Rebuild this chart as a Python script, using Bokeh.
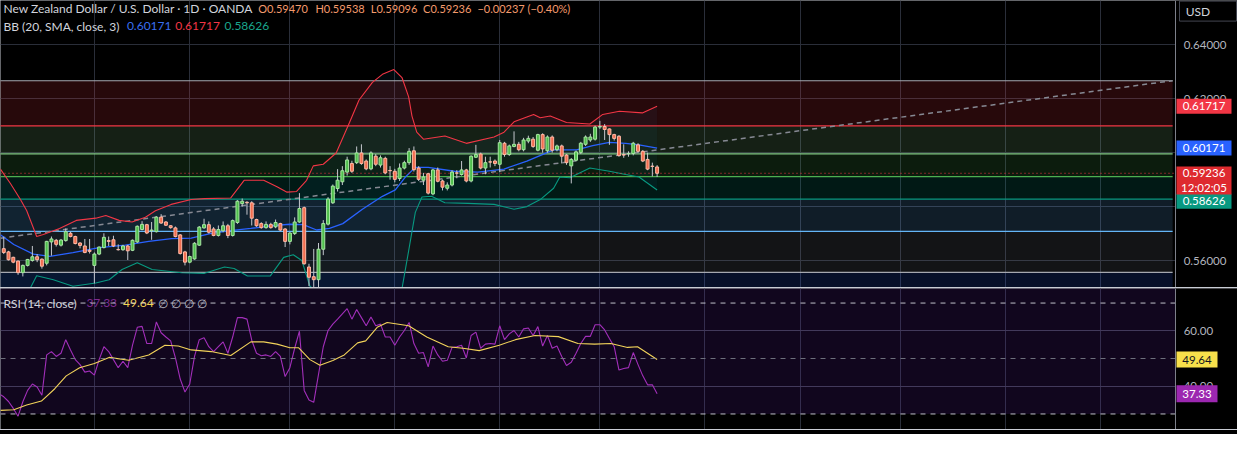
from bokeh.plotting import figure
from bokeh.models import Range1d, FixedTicker, ColumnDataSource, Spacer
from bokeh.layouts import column
from bokeh.embed import file_html
from bokeh.resources import INLINE
from bokeh.core.properties import value

# ---------------- data ----------------
bars = list(range(138))
opens = [0.5644,0.5632,0.5612,0.5598,0.5555,0.5582,0.5600,0.5614,0.5605,0.5590,
0.5669,0.5675,0.5657,0.5674,0.5701,0.5689,0.5665,0.5654,0.5638,0.5582,
0.5624,0.5648,0.5674,0.5677,0.5641,0.5640,0.5654,0.5638,0.5669,0.5715,
0.5733,0.5710,0.5707,0.5761,0.5743,0.5729,0.5721,0.5695,0.5632,0.5594,
0.5606,0.5657,0.5721,0.5733,0.5717,0.5693,0.5710,0.5729,0.5693,0.5741,
0.5811,0.5816,0.5814,0.5752,0.5737,0.5722,0.5734,0.5725,0.5737,0.5717,
0.5671,0.5700,0.5743,0.5796,0.5576,0.5540,0.5529,0.5642,0.5735,0.5814,
0.5867,0.5892,0.5928,0.5960,0.5963,0.5999,0.5969,0.5940,0.5987,0.5954,
0.5979,0.5934,0.5931,0.5904,0.5943,0.5963,0.6007,0.5943,0.5898,0.5922,
0.5847,0.5936,0.5895,0.5868,0.5880,0.5925,0.5919,0.5936,0.5895,0.5983,
0.5995,0.5943,0.5966,0.5969,0.5957,0.6035,0.5993,0.6023,0.6031,0.6011,
0.6043,0.6050,0.6009,0.6067,0.6007,0.6058,0.6011,0.6025,0.5991,0.5951,
0.5972,0.6001,0.6031,0.6047,0.6050,0.6095,0.6097,0.6088,0.6067,0.6061,
0.5993,0.5996,0.5997,0.6029,0.6005,0.5975,0.5950,0.59470]
highs = [0.5689,0.5636,0.5614,0.5600,0.5585,0.5606,0.5654,0.5624,0.5608,0.5673,
0.5689,0.5680,0.5680,0.5719,0.5707,0.5692,0.5668,0.5680,0.5680,0.5630,
0.5652,0.5701,0.5689,0.5692,0.5660,0.5658,0.5658,0.5678,0.5730,0.5746,
0.5736,0.5743,0.5764,0.5772,0.5746,0.5731,0.5726,0.5698,0.5636,0.5618,
0.5668,0.5728,0.5755,0.5745,0.5724,0.5730,0.5745,0.5736,0.5752,0.5824,
0.5830,0.5820,0.5820,0.5755,0.5742,0.5745,0.5740,0.5752,0.5740,0.5720,
0.5705,0.5760,0.5850,0.5800,0.5588,0.5643,0.5665,0.5750,0.5835,0.5882,
0.5939,0.5950,0.5985,0.5970,0.6023,0.6031,0.5975,0.6005,0.5995,0.5990,
0.5985,0.5950,0.5940,0.5960,0.5970,0.6017,0.6023,0.5950,0.5925,0.5925,
0.5940,0.5945,0.5900,0.5890,0.5935,0.5935,0.5969,0.5940,0.5990,0.6029,
0.6000,0.5985,0.5985,0.5975,0.6047,0.6040,0.6030,0.6079,0.6040,0.6055,
0.6063,0.6058,0.6070,0.6072,0.6064,0.6064,0.6030,0.6030,0.5995,0.5980,
0.6008,0.6040,0.6064,0.6070,0.6100,0.6118,0.6106,0.6090,0.6070,0.6065,
0.6031,0.6005,0.6040,0.6035,0.6010,0.6000,0.5963,0.59538]
lows = [0.5624,0.5600,0.5590,0.5547,0.5541,0.5578,0.5596,0.5594,0.5570,0.5582,
0.5618,0.5652,0.5652,0.5670,0.5686,0.5660,0.5645,0.5627,0.5626,0.5515,
0.5620,0.5645,0.5654,0.5650,0.5637,0.5636,0.5602,0.5635,0.5665,0.5712,
0.5698,0.5677,0.5704,0.5736,0.5728,0.5718,0.5686,0.5622,0.5582,0.5590,
0.5603,0.5654,0.5718,0.5700,0.5690,0.5689,0.5705,0.5683,0.5689,0.5736,
0.5800,0.5770,0.5730,0.5725,0.5718,0.5718,0.5718,0.5720,0.5709,0.5650,
0.5660,0.5695,0.5740,0.5585,0.5505,0.5500,0.5498,0.5620,0.5730,0.5810,
0.5856,0.5880,0.5915,0.5925,0.5958,0.5955,0.5935,0.5935,0.5950,0.5945,
0.5920,0.5900,0.5890,0.5895,0.5938,0.5955,0.5930,0.5895,0.5880,0.5845,
0.5842,0.5890,0.5860,0.5860,0.5875,0.5905,0.5915,0.5890,0.5890,0.5980,
0.5938,0.5920,0.5945,0.5950,0.5928,0.5985,0.5988,0.6020,0.6005,0.6005,
0.6035,0.6018,0.6005,0.6000,0.6000,0.6000,0.6005,0.5960,0.5955,0.5886,
0.5968,0.5995,0.6025,0.6040,0.6045,0.6088,0.6047,0.6029,0.6045,0.5985,
0.5981,0.5985,0.5990,0.6000,0.5965,0.5935,0.5912,0.59096]
closes = [0.5630,0.5603,0.5594,0.5555,0.5582,0.5604,0.5614,0.5603,0.5579,0.5671,
0.5680,0.5660,0.5676,0.5707,0.5689,0.5663,0.5656,0.5630,0.5634,0.5624,
0.5650,0.5686,0.5671,0.5654,0.5640,0.5654,0.5636,0.5675,0.5727,0.5734,
0.5702,0.5713,0.5761,0.5739,0.5731,0.5722,0.5689,0.5626,0.5594,0.5615,
0.5664,0.5724,0.5733,0.5705,0.5693,0.5715,0.5729,0.5693,0.5748,0.5820,
0.5820,0.5814,0.5757,0.5729,0.5722,0.5734,0.5722,0.5741,0.5713,0.5671,
0.5702,0.5743,0.5793,0.5588,0.5538,0.5529,0.5642,0.5737,0.5828,0.5876,
0.5898,0.5933,0.5973,0.5931,0.5999,0.5960,0.5940,0.5999,0.5957,0.5981,
0.5925,0.5933,0.5901,0.5943,0.5963,0.6005,0.5937,0.5901,0.5910,0.5850,
0.5936,0.5894,0.5872,0.5880,0.5928,0.5924,0.5936,0.5895,0.5987,0.5993,
0.5943,0.5963,0.5965,0.5960,0.6037,0.5993,0.6025,0.6031,0.6011,0.6047,
0.6053,0.6023,0.6067,0.6014,0.6058,0.6009,0.6025,0.5987,0.5963,0.5975,
0.6003,0.6035,0.6058,0.6058,0.6095,0.6097,0.6086,0.6067,0.6053,0.5989,
0.5991,0.5997,0.6035,0.6005,0.5969,0.5939,0.5949,0.59236]

# Bollinger bands (20, SMA, 3) sampled along the bars
bb_up_idx = [-0.7,1.4,3.5,4.8,6.9,8.3,11.7,15.2,19.3,21.4,24.2,26.9,29.7,31.8,35.1,39.3,42.1,47.6,50.4,54.5,
             57.3,59.4,61.4,63.5,64.9,67.0,69.7,72.5,74.5,77.3,79.4,81.8,83.5,84.9,85.6,86.6,88.0,92.5,97.0,102.8,
             104.9,107.0,111.1,112.5,114.6,118.0,122.9,125.6,129.1,133.9,137]
bb_up = [0.59393,0.58857,0.58261,0.57857,0.56893,0.56964,0.57189,0.57489,0.57571,0.57668,0.57489,0.57429,0.57607,
         0.57846,0.58082,0.58261,0.58296,0.58321,0.58975,0.58975,0.58739,0.58536,0.58561,0.58975,0.59511,0.59571,
         0.59989,0.61118,0.61954,0.62607,0.62904,0.63082,0.62786,0.62071,0.61357,0.60761,0.60500,0.60618,0.60346,
         0.60582,0.60761,0.61143,0.61418,0.61296,0.61357,0.61118,0.61061,0.61418,0.61536,0.61475,0.61717]
bb_mid_idx = [-0.7,2.1,6.2,9.7,14.5,20.0,25.5,30.4,35.2,39.3,43.5,47.6,51.8,55.9,60.0,62.8,65.6,68.3,71.1,75.2,
              79.4,82.1,84.2,86.3,89.0,94.5,99.4,104.9,109.7,115.3,120.1,123.5,127.0,130.4,133.2,137]
bb_mid = [0.56954,0.56596,0.56239,0.56154,0.56296,0.56475,0.56571,0.56714,0.56811,0.56832,0.57011,0.57107,0.57189,
          0.57286,0.57346,0.57332,0.57132,0.57189,0.57368,0.57904,0.58382,0.58618,0.59096,0.59454,0.59454,0.59311,
          0.59275,0.59393,0.59689,0.60107,0.60107,0.60261,0.60382,0.60346,0.60286,0.60171]
bb_lo_idx = [-0.7,3.0,5.5,6.9,10.4,14.5,19.3,22.1,24.8,28.0,31.1,37.3,42.1,46.3,48.3,51.1,55.9,58.7,60.7,62.5,
             64.2,64.9,68,73,78,82,83.5,84.9,86.3,87.7,89.7,92.5,97.3,102.8,107.0,109.7,112.5,115.3,116.6,118.7,
             122.9,127.0,130.4,133.2,137]
bb_lo = [0.5400,0.5440,0.54954,0.55439,0.55286,0.55046,0.55168,0.55286,0.55668,0.55918,0.55668,0.55546,0.55525,
         0.55761,0.55704,0.55429,0.55429,0.56118,0.56214,0.56000,0.55046,0.54954,0.5380,0.5300,0.5290,0.5380,
         0.54954,0.56357,0.57786,0.58357,0.58382,0.58143,0.58118,0.58082,0.57904,0.58000,0.58261,0.58679,0.59096,
         0.59071,0.59429,0.59311,0.59189,0.59096,0.58618]

# Fibonacci retracement levels
fib_levels = ["0", "0.236", "0.382", "0.5", "0.618", "0.786", "1", "1.618"]
fib_prices = [0.62667, 0.60990, 0.59952, 0.59114, 0.58275, 0.57081, 0.55560, 0.51170]
trend_idx = [-0.7, 245.1]
trend_price = [0.5683, 0.6267]

# RSI (14, close) and its moving average
rsi_idx = list(range(-1, 138))
rsi = [37.3,36.2,34.5,32.0,29.2,34.4,38.5,40.8,39.7,36.75,51.3,52.5,50.75,51.9,56.8,53.1,49.6,47.8,45.1,45.5,
       44.0,49.6,54.25,52.5,49.6,46.7,49.0,46.7,54.8,61.25,61.6,55.4,55.4,63.2,59.3,57.75,56.35,50.2,42.6,37.9,
       40.8,50.75,56.8,57.5,54.25,52.5,54.25,56.0,51.9,57.75,64.75,64.75,64.2,56.6,51.9,51.0,51.3,50.75,52.5,50.75,
       43.5,46.7,53.7,59.85,38.5,35.0,34.2,44.3,54.25,60.1,62.4,64.2,66.1,68.0,64.2,67.7,64.75,61.8,65.0,61.8,
       62.4,57.75,57.75,54.8,57.75,60.1,63.0,55.4,51.9,52.15,47.0,54.5,51.3,49.0,49.35,54.0,54.25,54.8,50.2,58.3,
       59.5,53.7,55.2,55.4,55.2,61.8,56.8,58.9,60.1,57.75,60.7,61.0,58.3,61.5,54.5,58.3,53.7,54.5,50.75,47.5,
       48.65,51.9,55.4,58.0,58.0,62.2,62.2,60.3,57.2,54.25,45.85,46.4,46.7,52.15,47.8,43.75,40.5,40.5,37.33]
rsi_ma_idx = [-0.7,2.1,4.8,7.9,10.7,13.1,15.9,19.0,22.1,26.2,30.4,33.8,36.6,39.3,43.5,47.6,51.8,54.5,57.3,60.0,
              61.8,64.2,66.3,69.0,71.4,74.2,75.9,78.3,80.4,84.9,88.7,93.2,96.3,99.7,103.9,107.3,111.4,116.3,120.4,
              123.9,127.3,130.8,132.9,137]
rsi_ma = [31.3,31.5,33.25,34.65,39.1,43.75,46.7,48.2,50.4,49.35,51.3,54.8,54.5,53.1,52.5,51.1,56.0,56.0,55.2,53.9,
          53.9,49.6,47.6,49.3,51.3,55.65,56.35,61.25,63.0,61.8,57.75,54.25,53.7,52.85,54.8,56.8,58.3,57.9,55.4,
          55.2,55.4,54.0,54.25,49.64]
rsi_levels = [70, 50, 30]

month_starts = [19, 39, 60, 82, 104, 125, 147, 167, 188, 210, 230]
price_ticks = [0.56, 0.62, 0.64]
price_grid = [0.56, 0.58, 0.60, 0.62, 0.64]
rsi_ticks = [40, 60]

title_texts = ["New Zealand Dollar / U.S. Dollar · 1D · OANDA"]
ohlc_texts = ["O0.59470", "H0.59538", "L0.59096", "C0.59236", "\u22120.00237 (\u22120.40%)"]
bb_texts = ["BB (20, SMA, close, 3)", "0.60171", "0.61717", "0.58626"]
rsi_texts = ["RSI (14, close)", "37.33", "49.64", "\u2205  \u2205  \u2205  \u2205"]

# ---------------- layout / style ----------------
FONT = "Lato"
W = 1237
H_MAIN = 287
H_RSI = 141
PLOT_W = 1175                      # px up to the price-scale border
X0 = -0.683
BPX = 246.383 / PLOT_W             # bars per pixel
AX = X0 + PLOT_W * BPX             # price-scale border (bar units)
XR = X0 + W * BPX
GRID = "#2a2e39"
TXT = "#d1d4dc"
AX_TXT = "#b2b5be"
AX_LINE = "#7d808a"
UP_FILL, UP_LINE = "#4fbf4c", "#a8e6a3"
DN_FILL, DN_LINE = "#f26e50", "#ffb9a5"
WICK = "#c5c8cf"

xr = Range1d(X0, XR)

def make_fig(h, yr):
    f = figure(width=W, height=h, x_range=xr, y_range=yr, x_axis_location=None,
               y_axis_location=None, toolbar_location=None, output_backend="svg",
               min_border_left=0, min_border_right=0, min_border_top=0, min_border_bottom=0,
               background_fill_color="#000000", border_fill_color="#000000", outline_line_color=None)
    f.xgrid.ticker = FixedTicker(ticks=month_starts)
    f.xgrid.grid_line_color = GRID
    f.ygrid.grid_line_color = GRID
    return f

def scale_area(f, ylo, yhi, ticks, labels):
    # price-scale strip: black background, border line, tick labels
    f.quad(left=AX, right=XR + 5, bottom=ylo, top=yhi, fill_color="#000000", line_color=None)
    f.segment(x0=AX, x1=AX, y0=ylo, y1=yhi, line_color=AX_LINE, line_width=1)
    f.text(x=AX + 8.2 * BPX, y=ticks, text=labels, text_color=AX_TXT, text_font=value(FONT),
           text_font_size=value("11.5px"), text_baseline="middle", text_align="left")

def tags(f, ys, texts, bgs, fgs, w_px, h_px, cx_px):
    f.rect(x=AX + cx_px * BPX, y=ys, width=w_px, height=h_px, width_units="screen",
           height_units="screen", fill_color=bgs, line_color=None)

def tag_text(f, ys, texts, fgs, cx_px):
    f.text(x=AX + cx_px * BPX, y=ys, text=texts, text_color=fgs, text_font=value(FONT),
           text_font_size=value("11.5px"), text_baseline="middle", text_align="center")

# ---------------- main pane ----------------
YLO, YHI = 0.55, 0.65643
p = make_fig(H_MAIN, Range1d(YLO, YHI))
p.ygrid.ticker = FixedTicker(ticks=price_grid)

fib_fill_cols = ["#f23645", "#81c784", "#4caf50", "#089981", "#64b5f6", "#787b86", "#2962ff"]
fib_line_cols = ["#a5a8b0", "#f23645", "#81c784", "#4caf50", "#089981", "#64b5f6", "#a5a8b0"]
FIB_L, FIB_R = -30, 245.1
p.quad(left=FIB_L, right=FIB_R, top=fib_prices[:-1], bottom=fib_prices[1:],
       fill_color=fib_fill_cols, fill_alpha=0.16, line_color=None)
p.patch(x=bb_up_idx + bb_lo_idx[::-1], y=bb_up + bb_lo[::-1], fill_color="#2196f3",
        fill_alpha=0.05, line_color=None)
p.segment(x0=FIB_L, x1=FIB_R, y0=fib_prices[:-1], y1=fib_prices[:-1],
          line_color=fib_line_cols, line_width=1.2)
p.line(x=trend_idx, y=trend_price, line_color="#868993", line_dash="5 4", line_width=1.5)

p.line(x=bb_up_idx, y=bb_up, line_color="#f23645", line_width=1.1)
p.line(x=bb_mid_idx, y=bb_mid, line_color="#2962ff", line_width=1.3)
p.line(x=bb_lo_idx, y=bb_lo, line_color="#089981", line_width=1.1)

p.line(x=[X0, AX], y=[closes[-1], closes[-1]], line_color="#f23645", line_dash="1 3", line_width=1)

up = [c >= o for o, c in zip(opens, closes)]
src = ColumnDataSource(dict(
    x=bars, h=highs, l=lows,
    top=[max(o, c) for o, c in zip(opens, closes)],
    bot=[min(o, c) for o, c in zip(opens, closes)],
    fill=[UP_FILL if u else DN_FILL for u in up],
    edge=[UP_LINE if u else DN_LINE for u in up],
))
p.segment(x0="x", y0="h", x1="x", y1="l", source=src, line_color=WICK, line_width=1)
p.vbar(x="x", width=0.62, top="top", bottom="bot", fill_color="fill", line_color="edge",
       line_width=1, source=src)

# legend
y_l1, y_l2 = 0.65339, 0.64679
p.text(x=[-0.06], y=[y_l1], text=title_texts, text_color=TXT, text_font=value(FONT),
       text_font_size=value("12px"), text_baseline="middle", text_align="left")
p.text(x=[53.35, 65.36, 76.96, 87.93, 99.32], y=[y_l1] * 5, text=ohlc_texts,
       text_color="#f49a6c", text_font=value(FONT), text_font_size=value("11px"),
       text_baseline="middle", text_align="left")
p.text(x=[-0.06, 25.82, 35.96, 46.31], y=[y_l2] * 4, text=bb_texts,
       text_color=[TXT, "#3a6ff0", "#f23645", "#1aa58c"], text_font=value(FONT),
       text_font_size=value("12px"), text_baseline="middle", text_align="left")

# price scale
scale_area(p, YLO, YHI, price_ticks, ["%.5f" % t for t in price_ticks])
# tags: teal below, last-price box above it
tags(p, [0.60171, 0.61717, 0.58196, 0.58964], None,
     ["#2962ff", "#f23645", "#089981", "#de2a2f"], None,
     [55, 55, 55, 55], [15, 15, 15, 28], 28.5)
tag_text(p, [0.61717, 0.60171, 0.58196, 0.59236, 0.58714],
         ["0.61717", "0.60171", "0.58626", "0.59236", "12:02:05"],
         "#ffffff", 28.5)
# currency button
p.rect(x=AX + 32.5 * BPX, y=0.6525, width=57, height=20, width_units="screen",
       height_units="screen", fill_color="#000000", line_color="#434651", line_width=1)
p.text(x=[AX + 22.5 * BPX], y=[0.6525], text=["USD"], text_color=TXT, text_font=value(FONT),
       text_font_size=value("12px"), text_baseline="middle", text_align="center")

# ---------------- RSI pane ----------------
RLO, RHI = 24.4, 75.25
r = make_fig(H_RSI, Range1d(RLO, RHI))
r.ygrid.ticker = FixedTicker(ticks=rsi_ticks)
r.ygrid.grid_line_color = "#3a3d48"

r.quad(left=X0 - 5, right=AX, bottom=30, top=RHI + 5, fill_color="#7428c8", fill_alpha=0.15,
       line_color=None)
r.text(x=[-0.06, 17.33, 25.0, 32.4], y=[70] * 4, text=rsi_texts,
       text_color=[TXT, "#7e2c90", "#f5d451", "#b2b5be"], text_font=value(FONT),
       text_font_size=value("12px"), text_baseline="middle", text_align="left")
r.line(x=rsi_idx, y=rsi, line_color="#a22fba", line_width=1.1)
r.line(x=rsi_ma_idx, y=rsi_ma, line_color="#f2d35a", line_width=1.1)
r.segment(x0=X0, x1=AX, y0=rsi_levels, y1=rsi_levels,
          line_color=["#d1d4dc", "#787b86", "#d1d4dc"], line_alpha=0.9,
          line_dash="5 5", line_width=1)

scale_area(r, RLO, RHI, rsi_ticks, ["%.2f" % t for t in rsi_ticks])
tags(r, [49.64, 37.33], None, ["#f7e04b", "#9c27b0"], None, [41, 41], [16, 17], 21.5)
tag_text(r, [49.64, 37.33], ["49.64", "37.33"], ["#131722", "#ffffff"], 21.5)

bottom = Spacer(width=W, height=4, styles={"background-color": "#000000"})
layout = column(p, r, bottom, spacing=1, styles={"background-color": "#c9ccd4"})

open("out.html", "w").write(file_html(layout, INLINE))
